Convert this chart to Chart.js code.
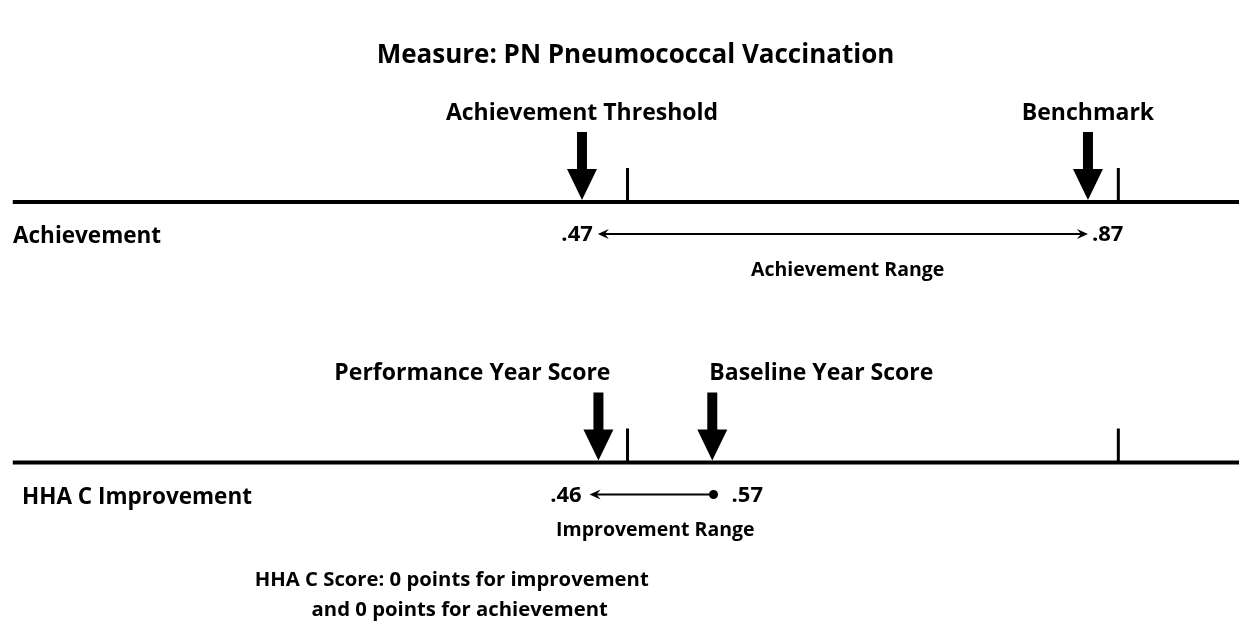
<!DOCTYPE html>
<html><head><meta charset="utf-8">
<style>html,body{margin:0;padding:0;background:#fff}#wrap{width:1239px;height:625px;position:relative}</style>
<script src="https://cdn.jsdelivr.net/npm/chart.js@4/dist/chart.umd.min.js"></script>
</head><body><div id="wrap"><canvas id="c"></canvas></div>
<script>
// ---------- data ----------
const chartTitle = 'Measure: PN Pneumococcal Vaccination';
const rowNames = ['Achievement', 'HHA C Improvement'];
const rowIndex = [0, 1];
const lineStart = [0.020, 0.020];
const lineEnd = [0.99, 0.99];
const tickPositions = [0.506, 0.894];
const markerNames = ['Achievement Threshold', 'Benchmark', 'Performance Year Score', 'Baseline Year Score'];
const markerRow = [0, 0, 1, 1];
const markerPos = [0.47, 0.87, 0.483, 0.573];
const markerLabelAlign = ['center', 'center', 'right', 'left'];
const rangeNames = ['Achievement Range', 'Improvement Range'];
const rangeLeft = [0.4825, 0.476];
const rangeRight = [0.870, 0.574];
const rangeLeftLabel = ['.47', '.46'];
const rangeRightLabel = ['.87', '.57'];
const rangeRightEnd = ['arrow', 'dot'];
const rangeLabelCenter = [0.680, 0.528];
const scoreLines = ['HHA C Score: 0 points for improvement', 'and 0 points for achievement'];
const scoreCenter = 0.367;

const FONT = '"Open Sans", "Noto Sans", sans-serif';
function f(size, w) { return (w || 700) + ' ' + size + 'px ' + FONT; }

const drawPlugin = {
  id: 'diagram',
  afterDatasetsDraw(chart) {
    const ctx = chart.ctx, xs = chart.scales.x, ys = chart.scales.y;
    ctx.save();
    ctx.fillStyle = '#000'; ctx.strokeStyle = '#000';
    // title
    ctx.font = f(26); ctx.textAlign = 'center'; ctx.textBaseline = 'middle';
    ctx.fillText(chartTitle, chart.width / 2 + 16, 56);
    rowIndex.forEach((r, i) => {
      const y = ys.getPixelForValue(r);
      tickPositions.forEach(t => {
        const x = xs.getPixelForValue(t);
        ctx.fillRect(x - 1.5, y - 34, 3, 34);
      });
      ctx.font = f(22.5); ctx.textAlign = 'left';
      ctx.fillText(rowNames[i], 13 + i * 9, y + 35);
    });
    // big arrows
    markerNames.forEach((name, i) => {
      const x = xs.getPixelForValue(markerPos[i]);
      const y = ys.getPixelForValue(rowIndex[markerRow[i]]) - 2;
      ctx.beginPath();
      ctx.moveTo(x, y);
      ctx.lineTo(x - 15, y - 31);
      ctx.lineTo(x - 5, y - 31);
      ctx.lineTo(x - 5, y - 68);
      ctx.lineTo(x + 5, y - 68);
      ctx.lineTo(x + 5, y - 31);
      ctx.lineTo(x + 15, y - 31);
      ctx.closePath(); ctx.fill();
      ctx.font = f(23); ctx.textAlign = markerLabelAlign[i];
      const dx = markerLabelAlign[i] === 'right' ? 12 : markerLabelAlign[i] === 'left' ? -3 : 0;
      ctx.fillText(name, x + dx, y - 87);
    });
    // range arrows
    rangeNames.forEach((name, i) => {
      const y = ys.getPixelForValue(rowIndex[i]) + 32;
      const x1 = xs.getPixelForValue(rangeLeft[i]);
      const x2 = xs.getPixelForValue(rangeRight[i]);
      ctx.lineWidth = 2;
      ctx.beginPath(); ctx.moveTo(x1 + 4, y); ctx.lineTo(x2 - (rangeRightEnd[i] === 'arrow' ? 4 : 0), y); ctx.stroke();
      ctx.beginPath();
      ctx.moveTo(x1, y); ctx.lineTo(x1 + 11, y - 5); ctx.lineTo(x1 + 7, y); ctx.lineTo(x1 + 11, y + 5); ctx.closePath(); ctx.fill();
      if (rangeRightEnd[i] === 'arrow') {
        ctx.beginPath();
        ctx.moveTo(x2, y); ctx.lineTo(x2 - 11, y - 5); ctx.lineTo(x2 - 7, y); ctx.lineTo(x2 - 11, y + 5); ctx.closePath(); ctx.fill();
      } else {
        ctx.beginPath(); ctx.arc(x2, y, 4.5, 0, Math.PI * 2); ctx.fill();
      }
      ctx.font = f(22); ctx.textBaseline = 'middle';
      ctx.textAlign = 'right'; ctx.fillText(rangeLeftLabel[i], x1 - (i === 0 ? 5 : 8), y + 1);
      ctx.textAlign = 'left'; ctx.fillText(rangeRightLabel[i], x2 + (i === 0 ? 4 : 18), y + 1);
      ctx.font = f(19.5); ctx.textAlign = 'center';
      ctx.fillText(name, xs.getPixelForValue(rangeLabelCenter[i]), y + 36);
    });
    // score text
    const yb = ys.getPixelForValue(rowIndex[1]);
    const xc = xs.getPixelForValue(scoreCenter);
    ctx.font = f(20.3); ctx.textAlign = 'center';
    ctx.fillText(scoreLines[0], xc, yb + 118);
    ctx.fillText(scoreLines[1], xc + 8, yb + 148);
    ctx.restore();
  }
};

new Chart(document.getElementById('c'), {
  type: 'line',
  data: {
    datasets: rowIndex.map((r, i) => ({
      data: [{ x: lineStart[i], y: r }, { x: lineEnd[i], y: r }],
      borderColor: '#000', borderWidth: 4, pointRadius: 0, fill: false
    }))
  },
  options: {
    responsive: true, maintainAspectRatio: false, animation: false,
    layout: { padding: 0 },
    plugins: { legend: { display: false }, tooltip: { enabled: false }, title: { display: false } },
    scales: {
      x: { type: 'linear', display: false, min: 0.0099, max: 0.9894 },
      y: { type: 'linear', display: false, reverse: true, min: -0.7754, max: 1.6238 }
    }
  },
  plugins: [drawPlugin]
});
</script>
</body></html>
